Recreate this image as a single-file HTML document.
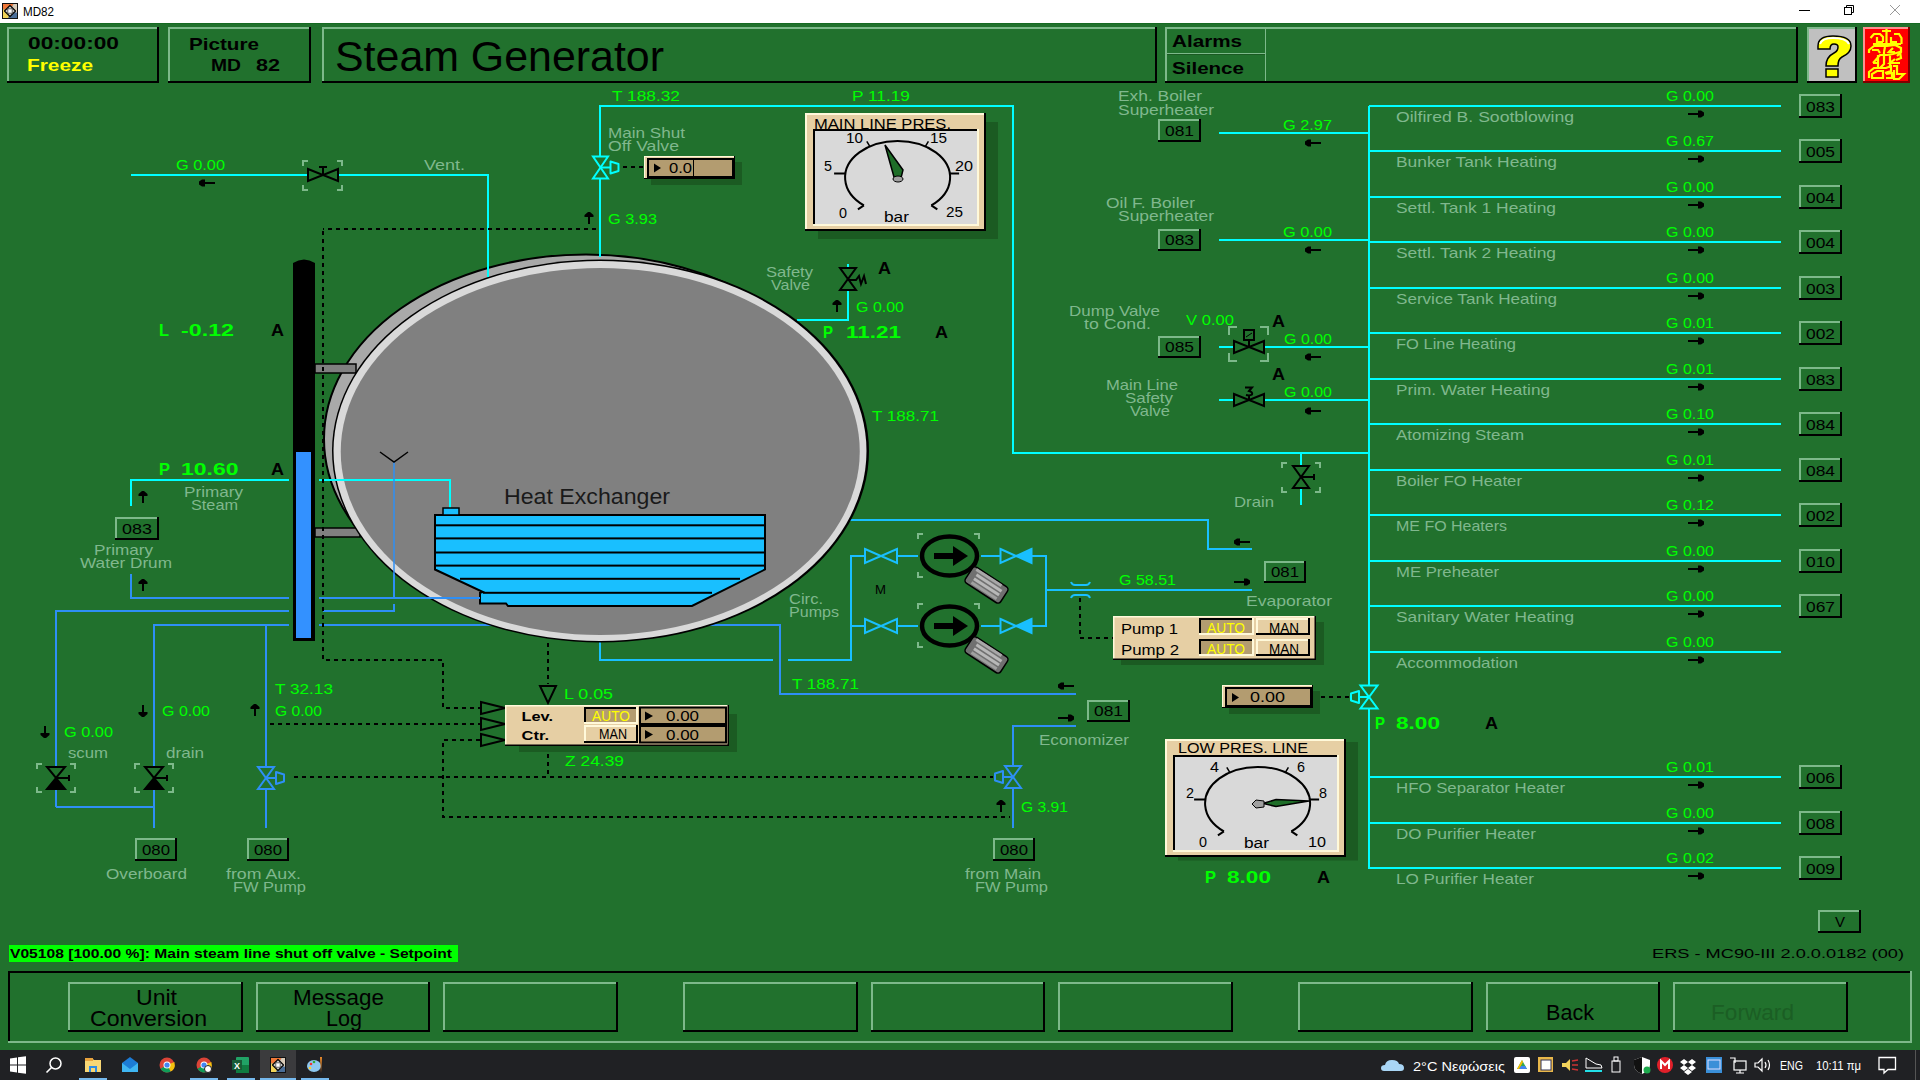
<!DOCTYPE html><html><head><meta charset="utf-8"><style>html,body{margin:0;padding:0;overflow:hidden;background:#21712D}svg{display:block}text{font-family:"Liberation Sans",sans-serif}</style></head><body>
<svg width="1920" height="1080" viewBox="0 0 1920 1080">
<rect x="0" y="0" width="1920" height="1080" fill="#21712D" />
<rect x="0" y="0" width="1920" height="23" fill="#FFFFFF" />
<rect x="0" y="23" width="1920" height="1" fill="#166A22" />
<text x="23" y="16" font-size="12" fill="#000" font-weight="normal" textLength="31" lengthAdjust="spacingAndGlyphs" >MD82</text>
<g transform="translate(2,3)"><rect x="0" y="0" width="16" height="16" fill="#4A6E98"/><path d="M0,0 H12 L8,8 L0,6Z" fill="#F07838"/><path d="M12,0 H16 V10 L8,8Z" fill="#D9CBB8"/><path d="M0,6 L8,8 L6,16 H0Z" fill="#F2D458"/><rect x="0.5" y="0.5" width="15" height="15" fill="none" stroke="#111" stroke-width="1"/><path d="M8,2.5 L13.5,8 L8,13.5 L2.5,8Z" fill="#FFF" stroke="#000" stroke-width="1.2" stroke-linejoin="round"/><circle cx="8" cy="8" r="3" fill="#BBB" stroke="#555" stroke-width="0.8"/><circle cx="8" cy="8" r="1.5" fill="#FFF"/></g>
<rect x="1799" y="10" width="11" height="1" fill="#000" />
<rect x="1844.5" y="7.5" width="7" height="7" fill="none" stroke="#000" stroke-width="1"/><path d="M1846.5,7.5V5.5H1853.5V12.5H1851.5" fill="none" stroke="#000" stroke-width="1"/>
<path d="M1890,5 L1900,15 M1900,5 L1890,15" stroke="#999" stroke-width="1"/>
<path d="M7,83V27H159V29H9V83Z" fill="#7DB98A"/>
<path d="M159,27V83H7V81H157V27Z" fill="#000"/>
<text x="28" y="49" font-size="17" fill="#000" font-weight="bold" textLength="91" lengthAdjust="spacingAndGlyphs" >00:00:00</text>
<text x="27" y="71" font-size="17" fill="#FFFF00" font-weight="bold" textLength="66" lengthAdjust="spacingAndGlyphs" >Freeze</text>
<path d="M168,83V27H311V29H170V83Z" fill="#7DB98A"/>
<path d="M311,27V83H168V81H309V27Z" fill="#000"/>
<text x="189" y="50" font-size="17" fill="#000" font-weight="bold" textLength="70" lengthAdjust="spacingAndGlyphs" >Picture</text>
<text x="211" y="71" font-size="17" fill="#000" font-weight="bold" textLength="30" lengthAdjust="spacingAndGlyphs" >MD</text>
<text x="256" y="71" font-size="17" fill="#000" font-weight="bold" textLength="24" lengthAdjust="spacingAndGlyphs" >82</text>
<path d="M322,83V27H1157V29H324V83Z" fill="#7DB98A"/>
<path d="M1157,27V83H322V81H1155V27Z" fill="#000"/>
<text x="335" y="71" font-size="42" fill="#000" font-weight="normal" textLength="329" lengthAdjust="spacingAndGlyphs" >Steam Generator</text>
<path d="M1165,83V27H1798V29H1167V83Z" fill="#7DB98A"/>
<path d="M1798,27V83H1165V81H1796V27Z" fill="#000"/>
<rect x="1265" y="28" width="1" height="53" fill="#7DB98A"/>
<rect x="1167" y="53" width="98" height="1" fill="#7DB98A"/>
<rect x="1167" y="54" width="98" height="1" fill="#1A5A22"/>
<text x="1172" y="47" font-size="17" fill="#000" font-weight="bold" textLength="70" lengthAdjust="spacingAndGlyphs" >Alarms</text>
<text x="1172" y="74" font-size="17" fill="#000" font-weight="bold" textLength="72" lengthAdjust="spacingAndGlyphs" >Silence</text>
<rect x="1807" y="27" width="50" height="56" fill="#C0C0C0" />
<path d="M1807,83V27H1857V29H1809V83Z" fill="#7DB98A"/>
<path d="M1857,27V83H1807V81H1855V27Z" fill="#000"/>
<rect x="1863" y="27" width="47" height="56" fill="#FF0000" />
<path d="M1863,83V27H1910V29H1865V83Z" fill="#FF9090"/>
<path d="M1910,27V83H1863V81H1908V27Z" fill="#800000"/>
<path d="M1818,46 Q1818,36 1833,36 Q1851,36 1851,46 Q1851,53 1842,57 Q1838,59 1838,66 H1826 Q1826,57 1834,53 Q1838,51 1838,47 Q1838,44 1834,44 Q1830,44 1830,49 H1818Z" fill="#FFFF00" stroke="#000" stroke-width="1.5"/>
<path d="M1826,69 H1838 V77 H1826Z" fill="#FFFF00" stroke="#000" stroke-width="1.5"/>
<path d="M1820,44 Q1822,38 1833,38 Q1846,38 1849,44" fill="none" stroke="#FFF" stroke-width="2"/>
<g fill="none" stroke="#FFFF00" stroke-width="2.2" stroke-linejoin="miter"><path d="M1882,31 H1891 M1886.5,29 V45 M1870.5,38 L1874,34 H1880 L1883,37 V42 M1877,37 V42 H1883 M1894,34 H1899 L1901.5,38 V44 M1891,37 V42 H1897 M1873,44 H1901"/><path d="M1869,53 V50 L1874,46 H1887 L1895,45 L1901,48 V52 L1897,56 M1872,50 H1878 L1880,53 M1885,47 L1884,52 M1893,48 L1889,52 H1895"/><path d="M1873,63 L1880,55 H1887 L1893,54 L1900,52 L1901,58 L1896,60 M1878,55 V68 M1884,52 V64 L1880,68 M1890,55 V66 M1873,63 H1878 M1895,59 L1890,63 H1900"/><path d="M1869,78 V72 L1874,68 H1886 L1891,66 V71 L1885,73 M1872,78 V74 L1877,71 H1883 V78 H1871 M1886,74 L1892,73 V78 H1886 M1893,66 H1897 V74 L1904,74 L1899,79 H1894 V70"/></g>
<path d="M131,175 L307,175" fill="none" stroke="#00FFFF" stroke-width="2" />
<path d="M339,175 L488,175 L488,277" fill="none" stroke="#00FFFF" stroke-width="2" />
<path d="M600,257 L600,179" fill="none" stroke="#00FFFF" stroke-width="2" />
<path d="M600,156 L600,106 L1013,106 L1013,453 L1369,453" fill="none" stroke="#00FFFF" stroke-width="2" />
<path d="M1301,453 L1301,466" fill="none" stroke="#00FFFF" stroke-width="2" />
<path d="M1301,488 L1301,505" fill="none" stroke="#00FFFF" stroke-width="2" />
<path d="M131,506 L131,480 L289,480" fill="none" stroke="#00FFFF" stroke-width="2" />
<path d="M319,480 L450,480 L450,508" fill="none" stroke="#00FFFF" stroke-width="2" />
<path d="M797,320 L848,320 L848,290" fill="none" stroke="#00FFFF" stroke-width="2" />
<path d="M848,264 L848,268" fill="none" stroke="#00FFFF" stroke-width="2" />
<path d="M131,574 L131,598 L289,598" fill="none" stroke="#2E8FF5" stroke-width="2" />
<path d="M319,598 L480,598" fill="none" stroke="#2E8FF5" stroke-width="2" />
<path d="M56,807 L56,611 L289,611" fill="none" stroke="#2E8FF5" stroke-width="2" />
<path d="M323,611 L394,611 L394,604" fill="none" stroke="#2E8FF5" stroke-width="2" />
<path d="M394,597 L394,462" fill="none" stroke="#2E8FF5" stroke-width="2" />
<path d="M56,807 L154,807" fill="none" stroke="#2E8FF5" stroke-width="2" />
<path d="M154,828 L154,625 L289,625" fill="none" stroke="#2E8FF5" stroke-width="2" />
<path d="M319,625 L780,625 L780,694 L1076,694" fill="none" stroke="#2E8FF5" stroke-width="2" />
<path d="M266,625 L266,766" fill="none" stroke="#2E8FF5" stroke-width="2" />
<path d="M266,789 L266,828" fill="none" stroke="#2E8FF5" stroke-width="2" />
<path d="M1013,828 L1013,789" fill="none" stroke="#2E8FF5" stroke-width="2" />
<path d="M1013,766 L1013,726 L1076,726" fill="none" stroke="#2E8FF5" stroke-width="2" />
<path d="M600,642 L600,660 L773,660" fill="none" stroke="#19BFFF" stroke-width="2" />
<path d="M788,660 L851,660 L851,556 L865,556" fill="none" stroke="#19BFFF" stroke-width="2" />
<path d="M851,626 L865,626" fill="none" stroke="#19BFFF" stroke-width="2" />
<path d="M897,556 L918,556" fill="none" stroke="#19BFFF" stroke-width="2" />
<path d="M897,626 L918,626" fill="none" stroke="#19BFFF" stroke-width="2" />
<path d="M981,556 L1001,556" fill="none" stroke="#19BFFF" stroke-width="2" />
<path d="M981,626 L1001,626" fill="none" stroke="#19BFFF" stroke-width="2" />
<path d="M1032,556 L1046,556 L1046,626 L1032,626" fill="none" stroke="#19BFFF" stroke-width="2" />
<path d="M1046,590 L1252,590" fill="none" stroke="#19BFFF" stroke-width="2" />
<path d="M840,520 L1208,520 L1208,549 L1252,549" fill="none" stroke="#19BFFF" stroke-width="2" />
<path d="M293,263 Q304,256 315,263 V641 H293Z" fill="#000"/>
<rect x="296" y="452" width="15" height="186" fill="#3391FF" />
<ellipse cx="586" cy="439" rx="262" ry="184.5" fill="#A9A9A9" stroke="#000" stroke-width="2"/>
<rect x="315" y="364" width="41" height="9" fill="#808080" stroke="#000" stroke-width="1.5"/>
<rect x="315" y="528" width="45" height="9" fill="#808080" stroke="#000" stroke-width="1.5"/>
<ellipse cx="600.5" cy="451" rx="268.5" ry="191.5" fill="#000"/>
<ellipse cx="600" cy="451" rx="266.5" ry="190" fill="#D9D9D9"/>
<ellipse cx="600.25" cy="451.5" rx="259.5" ry="183.5" fill="#808080"/>
<path d="M488,175 L488,277" fill="none" stroke="#00FFFF" stroke-width="2" />
<path d="M600,179 L600,257" fill="none" stroke="#00FFFF" stroke-width="2" />
<path d="M319,480 L450,480 L450,508" fill="none" stroke="#00FFFF" stroke-width="2" />
<path d="M394,597 L394,462" fill="none" stroke="#2E8FF5" stroke-width="1.5" />
<path d="M380,452 L394,462 L408,452" fill="none" stroke="#000" stroke-width="1.5"/>
<path d="M435,515 H765 V569.5 L692,606 H508 L506,603.5 H480 V592.8 L483,592 L435,569.5Z" fill="#19BFFF" stroke="#000" stroke-width="2"/>
<rect x="443" y="508" width="16" height="7" fill="#19BFFF" stroke="#000" stroke-width="1.5"/>
<rect x="435" y="524.3" width="330" height="2" fill="#000" />
<rect x="435" y="537.4" width="330" height="2" fill="#000" />
<rect x="435" y="551.5" width="330" height="2" fill="#000" />
<rect x="435" y="564.6" width="330" height="2" fill="#000" />
<rect x="460" y="577.8" width="280" height="2" fill="#000" />
<rect x="483" y="591.8" width="229" height="2" fill="#000" />
<path d="M323,598 L480,598" fill="none" stroke="#2E8FF5" stroke-width="2" />
<text x="504" y="504" font-size="22" fill="#1A1A1A" font-weight="normal" textLength="166" lengthAdjust="spacingAndGlyphs" >Heat Exchanger</text>
<path d="M596,229 L323,229" fill="none" stroke="#000" stroke-width="2" stroke-dasharray="4,4"/>
<path d="M323,231 L323,660 L443,660 L443,708 L480,708" fill="none" stroke="#000" stroke-width="2" stroke-dasharray="4,4"/>
<path d="M270,724 L480,724" fill="none" stroke="#000" stroke-width="2" stroke-dasharray="4,4"/>
<path d="M480,740 L443,740 L443,817 L1010,817" fill="none" stroke="#000" stroke-width="2" stroke-dasharray="4,4"/>
<path d="M294,777 L993,777" fill="none" stroke="#000" stroke-width="2" stroke-dasharray="4,4"/>
<path d="M548,643 L548,684" fill="none" stroke="#000" stroke-width="2" stroke-dasharray="4,4"/>
<path d="M548,746 L548,777" fill="none" stroke="#000" stroke-width="2" stroke-dasharray="4,4"/>
<path d="M623,167 L643,167" fill="none" stroke="#000" stroke-width="2" stroke-dasharray="4,4"/>
<path d="M1080,598 L1080,638 L1113,638" fill="none" stroke="#000" stroke-width="2" stroke-dasharray="4,4"/>
<path d="M1313,697 L1349,697" fill="none" stroke="#000" stroke-width="2" stroke-dasharray="4,4"/>
<path d="M481,702 L505,708 L481,714Z" fill="#21712D" stroke="#000" stroke-width="2"/>
<path d="M481,718 L505,724 L481,730Z" fill="#21712D" stroke="#000" stroke-width="2"/>
<path d="M481,734 L505,740 L481,746Z" fill="#21712D" stroke="#000" stroke-width="2"/>
<path d="M540,686 L556,686 L548,703Z" fill="#21712D" stroke="#000" stroke-width="2"/>
<path d="M308.0,169.0 L323,175 L308.0,181.0Z" fill="#21712D" stroke="#000" stroke-width="2" stroke-linejoin="miter"/>
<path d="M338.0,169.0 L323,175 L338.0,181.0Z" fill="#21712D" stroke="#000" stroke-width="2"/>
<path d="M323,175 V167 M319,167 H327" stroke="#000" stroke-width="2"/>
<path d="M303,166V161H308 M337,161H342V166 M342,185V190H337 M308,190H303V185" fill="none" stroke="#7DB98A" stroke-width="2"/>
<path d="M593.0,156.5 L608.0,156.5 L600.5,167.5Z" fill="#21712D" stroke="#00FFFF" stroke-width="2"/>
<path d="M593.0,178.5 L608.0,178.5 L600.5,167.5Z" fill="#21712D" stroke="#00FFFF" stroke-width="2"/>
<path d="M600.5,167.5 H610.5" stroke="#00FFFF" stroke-width="2"/>
<path d="M610.5,161.5 V173.5 L618.5,171.0 V164.0Z" fill="none" stroke="#00FFFF" stroke-width="2" stroke-linejoin="round"/>
<path d="M840.0,268.0 L856.0,268.0 L848,279Z" fill="#21712D" stroke="#000" stroke-width="2"/>
<path d="M840.0,290.0 L856.0,290.0 L848,279Z" fill="#21712D" stroke="#000" stroke-width="2"/>
<path d="M848,280 H856 L859,276 L861,284 L864,276 L866,284" fill="none" stroke="#000" stroke-width="2"/>
<rect x="1233" y="347" width="0" height="0" fill="#000" />
<path d="M1219,133 L1369,133" fill="none" stroke="#00FFFF" stroke-width="2" />
<path d="M1219,240 L1369,240" fill="none" stroke="#00FFFF" stroke-width="2" />
<path d="M1219,347 L1233,347" fill="none" stroke="#00FFFF" stroke-width="2" />
<path d="M1264,347 L1369,347" fill="none" stroke="#00FFFF" stroke-width="2" />
<path d="M1219,400 L1233,400" fill="none" stroke="#00FFFF" stroke-width="2" />
<path d="M1264,400 L1369,400" fill="none" stroke="#00FFFF" stroke-width="2" />
<path d="M1234.0,341.0 L1249,347 L1234.0,353.0Z" fill="#21712D" stroke="#000" stroke-width="2" stroke-linejoin="miter"/>
<path d="M1264.0,341.0 L1249,347 L1264.0,353.0Z" fill="#21712D" stroke="#000" stroke-width="2"/>
<path d="M1249,347 V340" stroke="#000" stroke-width="2"/>
<rect x="1244" y="330" width="10" height="10" fill="none" stroke="#000" stroke-width="2"/>
<path d="M1246,337 L1252,333" stroke="#000" stroke-width="1"/>
<path d="M1229,335V327H1237 M1260,327H1268V335 M1268,353V361H1260 M1237,361H1229V353" fill="none" stroke="#7DB98A" stroke-width="2"/>
<path d="M1234.0,394.0 L1249,400 L1234.0,406.0Z" fill="#21712D" stroke="#000" stroke-width="2" stroke-linejoin="miter"/>
<path d="M1264.0,394.0 L1249,400 L1264.0,406.0Z" fill="#21712D" stroke="#000" stroke-width="2"/>
<path d="M1249,400 V395 M1245,387.5 H1252 L1249,391 Q1253,392 1252,394.5 Q1250,396 1246,395" fill="none" stroke="#000" stroke-width="2"/>
<path d="M1293.0,466.0 L1309.0,466.0 L1301,477Z" fill="#21712D" stroke="#000" stroke-width="2"/>
<path d="M1293.0,488.0 L1309.0,488.0 L1301,477Z" fill="#21712D" stroke="#000" stroke-width="2"/>
<path d="M1301,477 H1314 M1314,474 V480" stroke="#000" stroke-width="2"/>
<path d="M1282,468V463H1287 M1315,463H1320V468 M1320,487V492H1315 M1287,492H1282V487" fill="none" stroke="#7DB98A" stroke-width="2"/>
<path d="M47.0,767.0 L65.0,767.0 L56,778Z" fill="#21712D" stroke="#000" stroke-width="2"/>
<path d="M47.0,789.0 L65.0,789.0 L56,778Z" fill="#000" stroke="#000" stroke-width="2"/>
<path d="M56,778 H69 M69,775 V781" stroke="#000" stroke-width="2"/>
<path d="M37,769V764H42 M70,764H75V769 M75,787V792H70 M42,792H37V787" fill="none" stroke="#7DB98A" stroke-width="2"/>
<path d="M145.0,767.0 L163.0,767.0 L154,778Z" fill="#21712D" stroke="#000" stroke-width="2"/>
<path d="M145.0,789.0 L163.0,789.0 L154,778Z" fill="#000" stroke="#000" stroke-width="2"/>
<path d="M154,778 H167 M167,775 V781" stroke="#000" stroke-width="2"/>
<path d="M135,769V764H140 M168,764H173V769 M173,787V792H168 M140,792H135V787" fill="none" stroke="#7DB98A" stroke-width="2"/>
<path d="M258.0,767.0 L274.0,767.0 L266,778Z" fill="#21712D" stroke="#2E8FF5" stroke-width="2"/>
<path d="M258.0,789.0 L274.0,789.0 L266,778Z" fill="#21712D" stroke="#2E8FF5" stroke-width="2"/>
<path d="M266,778 H276" stroke="#2E8FF5" stroke-width="2"/>
<path d="M276,772 V784 L284,781.5 V774.5Z" fill="none" stroke="#2E8FF5" stroke-width="2" stroke-linejoin="round"/>
<path d="M1005.0,766.0 L1021.0,766.0 L1013,777Z" fill="#21712D" stroke="#2E8FF5" stroke-width="2"/>
<path d="M1005.0,788.0 L1021.0,788.0 L1013,777Z" fill="#21712D" stroke="#2E8FF5" stroke-width="2"/>
<path d="M1013,777 H1003" stroke="#2E8FF5" stroke-width="2"/>
<path d="M1003,771 V783 L995,780.5 V773.5Z" fill="none" stroke="#2E8FF5" stroke-width="2" stroke-linejoin="round"/>
<path d="M1369,106 L1369,686" fill="none" stroke="#00FFFF" stroke-width="2" />
<path d="M1369,708 L1369,869" fill="none" stroke="#00FFFF" stroke-width="2" />
<path d="M1360.5,685.5 L1377.5,685.5 L1369,697Z" fill="#21712D" stroke="#00FFFF" stroke-width="2"/>
<path d="M1360.5,708.5 L1377.5,708.5 L1369,697Z" fill="#21712D" stroke="#00FFFF" stroke-width="2"/>
<path d="M1369,697 H1359" stroke="#00FFFF" stroke-width="2"/>
<path d="M1359,691 V703 L1351,700.5 V693.5Z" fill="none" stroke="#00FFFF" stroke-width="2" stroke-linejoin="round"/>
<path d="M865.0,549.0 L881,556 L865.0,563.0Z" fill="#21712D" stroke="#19BFFF" stroke-width="2" stroke-linejoin="miter"/>
<path d="M897.0,549.0 L881,556 L897.0,563.0Z" fill="#21712D" stroke="#19BFFF" stroke-width="2"/>
<path d="M1000.5,549.0 L1016,556 L1000.5,563.0Z" fill="#21712D" stroke="#19BFFF" stroke-width="2" stroke-linejoin="miter"/>
<path d="M1031.5,549.0 L1016,556 L1031.5,563.0Z" fill="#19BFFF" stroke="#19BFFF" stroke-width="2"/>
<path d="M918,539V534H923 M974,534H979V539 M979,572V577H974 M923,577H918V572" fill="none" stroke="#7DB98A" stroke-width="2"/>
<ellipse cx="949.5" cy="556" rx="27.5" ry="19.5" fill="none" stroke="#000" stroke-width="4.5"/>
<rect x="934" y="553" width="20" height="6" fill="#000" />
<path d="M953,546 L968,556 L953,566Z" fill="#000"/>
<g transform="translate(986.5,585) rotate(33)"><rect x="-21" y="-9.5" width="42" height="19" rx="3.5" fill="#707070" stroke="#000" stroke-width="1.5"/><rect x="-17" y="-9" width="30" height="3" fill="#A8A8A8"/><rect x="-14" y="-4.5" width="30" height="3" fill="#B8B8B8"/><rect x="-14" y="0" width="30" height="3" fill="#B8B8B8"/><rect x="-14" y="4.5" width="30" height="3" fill="#A0A0A0"/></g>
<path d="M865.0,619.0 L881,626 L865.0,633.0Z" fill="#21712D" stroke="#19BFFF" stroke-width="2" stroke-linejoin="miter"/>
<path d="M897.0,619.0 L881,626 L897.0,633.0Z" fill="#21712D" stroke="#19BFFF" stroke-width="2"/>
<path d="M1000.5,619.0 L1016,626 L1000.5,633.0Z" fill="#21712D" stroke="#19BFFF" stroke-width="2" stroke-linejoin="miter"/>
<path d="M1031.5,619.0 L1016,626 L1031.5,633.0Z" fill="#19BFFF" stroke="#19BFFF" stroke-width="2"/>
<path d="M918,609V604H923 M974,604H979V609 M979,642V647H974 M923,647H918V642" fill="none" stroke="#7DB98A" stroke-width="2"/>
<ellipse cx="949.5" cy="626" rx="27.5" ry="19.5" fill="none" stroke="#000" stroke-width="4.5"/>
<rect x="934" y="623" width="20" height="6" fill="#000" />
<path d="M953,616 L968,626 L953,636Z" fill="#000"/>
<g transform="translate(986.5,655) rotate(33)"><rect x="-21" y="-9.5" width="42" height="19" rx="3.5" fill="#707070" stroke="#000" stroke-width="1.5"/><rect x="-17" y="-9" width="30" height="3" fill="#A8A8A8"/><rect x="-14" y="-4.5" width="30" height="3" fill="#B8B8B8"/><rect x="-14" y="0" width="30" height="3" fill="#B8B8B8"/><rect x="-14" y="4.5" width="30" height="3" fill="#A0A0A0"/></g>
<text x="875" y="594" font-size="13" fill="#000" font-weight="normal" textLength="11" lengthAdjust="spacingAndGlyphs" >M</text>
<path d="M1071,582 Q1072,585 1075,585 H1086 Q1089,585 1090,582 M1071,598 Q1072,595 1075,595 H1086 Q1089,595 1090,598" fill="none" stroke="#19BFFF" stroke-width="2"/>
<path d="M1369,106 L1781,106" fill="none" stroke="#00FFFF" stroke-width="2" />
<text x="1396" y="122" font-size="15" fill="#80B88E" font-weight="normal" textLength="178" lengthAdjust="spacingAndGlyphs" >Oilfired B. Sootblowing</text>
<text x="1666" y="101" font-size="14" fill="#00FF00" font-weight="normal" textLength="48" lengthAdjust="spacingAndGlyphs" >G 0.00</text>
<path d="M1704,112.5 L1701,110.5 H1698 V113 H1688 V115 H1698 V117.5 H1701 L1704,115.5Z" fill="#000"/>
<path d="M1799,118V94H1842V96H1801V118Z" fill="#7DB98A"/>
<path d="M1842,94V118H1799V116H1840V94Z" fill="#000"/>
<text x="1806" y="112" font-size="15" fill="#000" font-weight="normal" textLength="29" lengthAdjust="spacingAndGlyphs" >083</text>
<path d="M1369,151 L1781,151" fill="none" stroke="#00FFFF" stroke-width="2" />
<text x="1396" y="167" font-size="15" fill="#80B88E" font-weight="normal" textLength="161" lengthAdjust="spacingAndGlyphs" >Bunker Tank Heating</text>
<text x="1666" y="146" font-size="14" fill="#00FF00" font-weight="normal" textLength="48" lengthAdjust="spacingAndGlyphs" >G 0.67</text>
<path d="M1704,157.5 L1701,155.5 H1698 V158 H1688 V160 H1698 V162.5 H1701 L1704,160.5Z" fill="#000"/>
<path d="M1799,163V139H1842V141H1801V163Z" fill="#7DB98A"/>
<path d="M1842,139V163H1799V161H1840V139Z" fill="#000"/>
<text x="1806" y="157" font-size="15" fill="#000" font-weight="normal" textLength="29" lengthAdjust="spacingAndGlyphs" >005</text>
<path d="M1369,197 L1781,197" fill="none" stroke="#00FFFF" stroke-width="2" />
<text x="1396" y="213" font-size="15" fill="#80B88E" font-weight="normal" textLength="160" lengthAdjust="spacingAndGlyphs" >Settl. Tank 1 Heating</text>
<text x="1666" y="192" font-size="14" fill="#00FF00" font-weight="normal" textLength="48" lengthAdjust="spacingAndGlyphs" >G 0.00</text>
<path d="M1704,203.5 L1701,201.5 H1698 V204 H1688 V206 H1698 V208.5 H1701 L1704,206.5Z" fill="#000"/>
<path d="M1799,209V185H1842V187H1801V209Z" fill="#7DB98A"/>
<path d="M1842,185V209H1799V207H1840V185Z" fill="#000"/>
<text x="1806" y="203" font-size="15" fill="#000" font-weight="normal" textLength="29" lengthAdjust="spacingAndGlyphs" >004</text>
<path d="M1369,242 L1781,242" fill="none" stroke="#00FFFF" stroke-width="2" />
<text x="1396" y="258" font-size="15" fill="#80B88E" font-weight="normal" textLength="160" lengthAdjust="spacingAndGlyphs" >Settl. Tank 2 Heating</text>
<text x="1666" y="237" font-size="14" fill="#00FF00" font-weight="normal" textLength="48" lengthAdjust="spacingAndGlyphs" >G 0.00</text>
<path d="M1704,248.5 L1701,246.5 H1698 V249 H1688 V251 H1698 V253.5 H1701 L1704,251.5Z" fill="#000"/>
<path d="M1799,254V230H1842V232H1801V254Z" fill="#7DB98A"/>
<path d="M1842,230V254H1799V252H1840V230Z" fill="#000"/>
<text x="1806" y="248" font-size="15" fill="#000" font-weight="normal" textLength="29" lengthAdjust="spacingAndGlyphs" >004</text>
<path d="M1369,288 L1781,288" fill="none" stroke="#00FFFF" stroke-width="2" />
<text x="1396" y="304" font-size="15" fill="#80B88E" font-weight="normal" textLength="161" lengthAdjust="spacingAndGlyphs" >Service Tank Heating</text>
<text x="1666" y="283" font-size="14" fill="#00FF00" font-weight="normal" textLength="48" lengthAdjust="spacingAndGlyphs" >G 0.00</text>
<path d="M1704,294.5 L1701,292.5 H1698 V295 H1688 V297 H1698 V299.5 H1701 L1704,297.5Z" fill="#000"/>
<path d="M1799,300V276H1842V278H1801V300Z" fill="#7DB98A"/>
<path d="M1842,276V300H1799V298H1840V276Z" fill="#000"/>
<text x="1806" y="294" font-size="15" fill="#000" font-weight="normal" textLength="29" lengthAdjust="spacingAndGlyphs" >003</text>
<path d="M1369,333 L1781,333" fill="none" stroke="#00FFFF" stroke-width="2" />
<text x="1396" y="349" font-size="15" fill="#80B88E" font-weight="normal" textLength="120" lengthAdjust="spacingAndGlyphs" >FO Line Heating</text>
<text x="1666" y="328" font-size="14" fill="#00FF00" font-weight="normal" textLength="48" lengthAdjust="spacingAndGlyphs" >G 0.01</text>
<path d="M1704,339.5 L1701,337.5 H1698 V340 H1688 V342 H1698 V344.5 H1701 L1704,342.5Z" fill="#000"/>
<path d="M1799,345V321H1842V323H1801V345Z" fill="#7DB98A"/>
<path d="M1842,321V345H1799V343H1840V321Z" fill="#000"/>
<text x="1806" y="339" font-size="15" fill="#000" font-weight="normal" textLength="29" lengthAdjust="spacingAndGlyphs" >002</text>
<path d="M1369,379 L1781,379" fill="none" stroke="#00FFFF" stroke-width="2" />
<text x="1396" y="395" font-size="15" fill="#80B88E" font-weight="normal" textLength="154" lengthAdjust="spacingAndGlyphs" >Prim. Water Heating</text>
<text x="1666" y="374" font-size="14" fill="#00FF00" font-weight="normal" textLength="48" lengthAdjust="spacingAndGlyphs" >G 0.01</text>
<path d="M1704,385.5 L1701,383.5 H1698 V386 H1688 V388 H1698 V390.5 H1701 L1704,388.5Z" fill="#000"/>
<path d="M1799,391V367H1842V369H1801V391Z" fill="#7DB98A"/>
<path d="M1842,367V391H1799V389H1840V367Z" fill="#000"/>
<text x="1806" y="385" font-size="15" fill="#000" font-weight="normal" textLength="29" lengthAdjust="spacingAndGlyphs" >083</text>
<path d="M1369,424 L1781,424" fill="none" stroke="#00FFFF" stroke-width="2" />
<text x="1396" y="440" font-size="15" fill="#80B88E" font-weight="normal" textLength="128" lengthAdjust="spacingAndGlyphs" >Atomizing Steam</text>
<text x="1666" y="419" font-size="14" fill="#00FF00" font-weight="normal" textLength="48" lengthAdjust="spacingAndGlyphs" >G 0.10</text>
<path d="M1704,430.5 L1701,428.5 H1698 V431 H1688 V433 H1698 V435.5 H1701 L1704,433.5Z" fill="#000"/>
<path d="M1799,436V412H1842V414H1801V436Z" fill="#7DB98A"/>
<path d="M1842,412V436H1799V434H1840V412Z" fill="#000"/>
<text x="1806" y="430" font-size="15" fill="#000" font-weight="normal" textLength="29" lengthAdjust="spacingAndGlyphs" >084</text>
<path d="M1369,470 L1781,470" fill="none" stroke="#00FFFF" stroke-width="2" />
<text x="1396" y="486" font-size="15" fill="#80B88E" font-weight="normal" textLength="126" lengthAdjust="spacingAndGlyphs" >Boiler FO Heater</text>
<text x="1666" y="465" font-size="14" fill="#00FF00" font-weight="normal" textLength="48" lengthAdjust="spacingAndGlyphs" >G 0.01</text>
<path d="M1704,476.5 L1701,474.5 H1698 V477 H1688 V479 H1698 V481.5 H1701 L1704,479.5Z" fill="#000"/>
<path d="M1799,482V458H1842V460H1801V482Z" fill="#7DB98A"/>
<path d="M1842,458V482H1799V480H1840V458Z" fill="#000"/>
<text x="1806" y="476" font-size="15" fill="#000" font-weight="normal" textLength="29" lengthAdjust="spacingAndGlyphs" >084</text>
<path d="M1369,515 L1781,515" fill="none" stroke="#00FFFF" stroke-width="2" />
<text x="1396" y="531" font-size="15" fill="#80B88E" font-weight="normal" textLength="111" lengthAdjust="spacingAndGlyphs" >ME FO Heaters</text>
<text x="1666" y="510" font-size="14" fill="#00FF00" font-weight="normal" textLength="48" lengthAdjust="spacingAndGlyphs" >G 0.12</text>
<path d="M1704,521.5 L1701,519.5 H1698 V522 H1688 V524 H1698 V526.5 H1701 L1704,524.5Z" fill="#000"/>
<path d="M1799,527V503H1842V505H1801V527Z" fill="#7DB98A"/>
<path d="M1842,503V527H1799V525H1840V503Z" fill="#000"/>
<text x="1806" y="521" font-size="15" fill="#000" font-weight="normal" textLength="29" lengthAdjust="spacingAndGlyphs" >002</text>
<path d="M1369,561 L1781,561" fill="none" stroke="#00FFFF" stroke-width="2" />
<text x="1396" y="577" font-size="15" fill="#80B88E" font-weight="normal" textLength="103" lengthAdjust="spacingAndGlyphs" >ME Preheater</text>
<text x="1666" y="556" font-size="14" fill="#00FF00" font-weight="normal" textLength="48" lengthAdjust="spacingAndGlyphs" >G 0.00</text>
<path d="M1704,567.5 L1701,565.5 H1698 V568 H1688 V570 H1698 V572.5 H1701 L1704,570.5Z" fill="#000"/>
<path d="M1799,573V549H1842V551H1801V573Z" fill="#7DB98A"/>
<path d="M1842,549V573H1799V571H1840V549Z" fill="#000"/>
<text x="1806" y="567" font-size="15" fill="#000" font-weight="normal" textLength="29" lengthAdjust="spacingAndGlyphs" >010</text>
<path d="M1369,606 L1781,606" fill="none" stroke="#00FFFF" stroke-width="2" />
<text x="1396" y="622" font-size="15" fill="#80B88E" font-weight="normal" textLength="178" lengthAdjust="spacingAndGlyphs" >Sanitary Water Heating</text>
<text x="1666" y="601" font-size="14" fill="#00FF00" font-weight="normal" textLength="48" lengthAdjust="spacingAndGlyphs" >G 0.00</text>
<path d="M1704,612.5 L1701,610.5 H1698 V613 H1688 V615 H1698 V617.5 H1701 L1704,615.5Z" fill="#000"/>
<path d="M1799,618V594H1842V596H1801V618Z" fill="#7DB98A"/>
<path d="M1842,594V618H1799V616H1840V594Z" fill="#000"/>
<text x="1806" y="612" font-size="15" fill="#000" font-weight="normal" textLength="29" lengthAdjust="spacingAndGlyphs" >067</text>
<path d="M1369,652 L1781,652" fill="none" stroke="#00FFFF" stroke-width="2" />
<text x="1396" y="668" font-size="15" fill="#80B88E" font-weight="normal" textLength="122" lengthAdjust="spacingAndGlyphs" >Accommodation</text>
<text x="1666" y="647" font-size="14" fill="#00FF00" font-weight="normal" textLength="48" lengthAdjust="spacingAndGlyphs" >G 0.00</text>
<path d="M1704,658.5 L1701,656.5 H1698 V659 H1688 V661 H1698 V663.5 H1701 L1704,661.5Z" fill="#000"/>
<path d="M1369,777 L1781,777" fill="none" stroke="#00FFFF" stroke-width="2" />
<text x="1396" y="793" font-size="15" fill="#80B88E" font-weight="normal" textLength="169" lengthAdjust="spacingAndGlyphs" >HFO Separator Heater</text>
<text x="1666" y="772" font-size="14" fill="#00FF00" font-weight="normal" textLength="48" lengthAdjust="spacingAndGlyphs" >G 0.01</text>
<path d="M1704,783.5 L1701,781.5 H1698 V784 H1688 V786 H1698 V788.5 H1701 L1704,786.5Z" fill="#000"/>
<path d="M1799,789V765H1842V767H1801V789Z" fill="#7DB98A"/>
<path d="M1842,765V789H1799V787H1840V765Z" fill="#000"/>
<text x="1806" y="783" font-size="15" fill="#000" font-weight="normal" textLength="29" lengthAdjust="spacingAndGlyphs" >006</text>
<path d="M1369,823 L1781,823" fill="none" stroke="#00FFFF" stroke-width="2" />
<text x="1396" y="839" font-size="15" fill="#80B88E" font-weight="normal" textLength="140" lengthAdjust="spacingAndGlyphs" >DO Purifier Heater</text>
<text x="1666" y="818" font-size="14" fill="#00FF00" font-weight="normal" textLength="48" lengthAdjust="spacingAndGlyphs" >G 0.00</text>
<path d="M1704,829.5 L1701,827.5 H1698 V830 H1688 V832 H1698 V834.5 H1701 L1704,832.5Z" fill="#000"/>
<path d="M1799,835V811H1842V813H1801V835Z" fill="#7DB98A"/>
<path d="M1842,811V835H1799V833H1840V811Z" fill="#000"/>
<text x="1806" y="829" font-size="15" fill="#000" font-weight="normal" textLength="29" lengthAdjust="spacingAndGlyphs" >008</text>
<path d="M1369,868 L1781,868" fill="none" stroke="#00FFFF" stroke-width="2" />
<text x="1396" y="884" font-size="15" fill="#80B88E" font-weight="normal" textLength="138" lengthAdjust="spacingAndGlyphs" >LO Purifier Heater</text>
<text x="1666" y="863" font-size="14" fill="#00FF00" font-weight="normal" textLength="48" lengthAdjust="spacingAndGlyphs" >G 0.02</text>
<path d="M1704,874.5 L1701,872.5 H1698 V875 H1688 V877 H1698 V879.5 H1701 L1704,877.5Z" fill="#000"/>
<path d="M1799,880V856H1842V858H1801V880Z" fill="#7DB98A"/>
<path d="M1842,856V880H1799V878H1840V856Z" fill="#000"/>
<text x="1806" y="874" font-size="15" fill="#000" font-weight="normal" textLength="29" lengthAdjust="spacingAndGlyphs" >009</text>
<rect x="818" y="122" width="180" height="117" fill="#1B5B22" />
<rect x="805" y="113" width="181" height="118" fill="#E6CFA4" />
<path d="M805,231V113H986V115H807V231Z" fill="#FFF9DA"/>
<path d="M986,113V231H805V229H984V113Z" fill="#000"/>
<rect x="813" y="129" width="166" height="97" fill="#D9D9D9" />
<path d="M813,226V129H979V131H815V226Z" fill="#000"/>
<path d="M979,129V226H813V224H977V129Z" fill="#FFF9DA"/>
<text x="814" y="129" font-size="14" fill="#000" font-weight="normal" textLength="137" lengthAdjust="spacingAndGlyphs" >MAIN LINE PRES.</text>
<path d="M863.9,205.4 A52.5,36.5 0 1 1 931.3,205.4" fill="none" stroke="#000" stroke-width="2"/>
<path d="M863.9,205.4 l-6,4" stroke="#000" stroke-width="2" fill="none"/>
<path d="M931.3,205.4 l6,4" stroke="#000" stroke-width="2" fill="none"/>
<path d="M834.1,173.4 H845.1 M950.1,173.4 H959.1" stroke="#000" stroke-width="2"/>
<path d="M866.8,141.4 L869.8,146.4 M928.4,141.4 L925.4,146.4" stroke="#000" stroke-width="1.5"/>
<text x="846" y="143" font-size="14" fill="#000" font-weight="normal" textLength="17" lengthAdjust="spacingAndGlyphs" >10</text>
<text x="930" y="143" font-size="14" fill="#000" font-weight="normal" textLength="17" lengthAdjust="spacingAndGlyphs" >15</text>
<text x="824" y="171" font-size="14" fill="#000" font-weight="normal" textLength="8" lengthAdjust="spacingAndGlyphs" >5</text>
<text x="955" y="171" font-size="14" fill="#000" font-weight="normal" textLength="18" lengthAdjust="spacingAndGlyphs" >20</text>
<text x="839" y="218" font-size="14" fill="#000" font-weight="normal" textLength="8" lengthAdjust="spacingAndGlyphs" >0</text>
<text x="946" y="217" font-size="14" fill="#000" font-weight="normal" textLength="17" lengthAdjust="spacingAndGlyphs" >25</text>
<text x="884" y="222" font-size="14" fill="#000" font-weight="normal" textLength="25" lengthAdjust="spacingAndGlyphs" >bar</text>
<path d="M885,145 L903,170 L901,178 L894,177Z" fill="#1E6E28" stroke="#000" stroke-width="1.5"/><ellipse cx="898" cy="179" rx="5" ry="3" fill="#A0A0A0" stroke="#000" stroke-width="1"/>
<rect x="1178" y="742" width="180" height="118.5" fill="#1B5B22" />
<rect x="1165" y="739" width="181" height="118" fill="#E6CFA4" />
<path d="M1165,857V739H1346V741H1167V857Z" fill="#FFF9DA"/>
<path d="M1346,739V857H1165V855H1344V739Z" fill="#000"/>
<rect x="1173" y="755" width="166" height="97" fill="#D9D9D9" />
<path d="M1173,852V755H1339V757H1175V852Z" fill="#000"/>
<path d="M1339,755V852H1173V850H1337V755Z" fill="#FFF9DA"/>
<text x="1178" y="752.6" font-size="14" fill="#000" font-weight="normal" textLength="130" lengthAdjust="spacingAndGlyphs" >LOW PRES. LINE</text>
<path d="M1223.9,831.4 A52.5,36.5 0 1 1 1291.3,831.4" fill="none" stroke="#000" stroke-width="2"/>
<path d="M1223.9,831.4 l-6,4" stroke="#000" stroke-width="2" fill="none"/>
<path d="M1291.3,831.4 l6,4" stroke="#000" stroke-width="2" fill="none"/>
<path d="M1194.1,799.4 H1205.1 M1310.1,799.4 H1319.1" stroke="#000" stroke-width="2"/>
<path d="M1226.8,767.4 L1229.8,772.4 M1288.4,767.4 L1285.4,772.4" stroke="#000" stroke-width="1.5"/>
<text x="1210" y="772" font-size="14" fill="#000" font-weight="normal" textLength="9" lengthAdjust="spacingAndGlyphs" >4</text>
<text x="1297" y="772" font-size="14" fill="#000" font-weight="normal" textLength="8" lengthAdjust="spacingAndGlyphs" >6</text>
<text x="1186" y="798" font-size="14" fill="#000" font-weight="normal" textLength="8" lengthAdjust="spacingAndGlyphs" >2</text>
<text x="1319" y="798" font-size="14" fill="#000" font-weight="normal" textLength="8" lengthAdjust="spacingAndGlyphs" >8</text>
<text x="1199" y="847" font-size="14" fill="#000" font-weight="normal" textLength="8" lengthAdjust="spacingAndGlyphs" >0</text>
<text x="1308" y="847" font-size="14" fill="#000" font-weight="normal" textLength="18" lengthAdjust="spacingAndGlyphs" >10</text>
<text x="1244" y="848" font-size="14" fill="#000" font-weight="normal" textLength="25" lengthAdjust="spacingAndGlyphs" >bar</text>
<path d="M1309,801 L1276,799.5 L1263,803.5 L1276,806.5Z" fill="#1E6E28" stroke="#000" stroke-width="1.5"/><path d="M1252,804 L1256,800 L1264,801 L1264,807 L1256,808Z" fill="#A0A0A0" stroke="#000" stroke-width="1"/>
<rect x="651" y="162" width="91" height="23" fill="#1B5B22" />
<rect x="644" y="156" width="91" height="23" fill="#E6CFA4" />
<path d="M644,179V156H735V157H645V179Z" fill="#FFF9DA"/>
<path d="M735,156V179H644V178H734V156Z" fill="#000"/>
<rect x="648" y="159" width="85" height="18" fill="#B39C70" stroke="#000" stroke-width="2"/>
<path d="M654,163.5 L661,168.0 L654,172.5Z" fill="#000"/>
<text x="669" y="172.5" font-size="14" fill="#000" font-weight="normal" textLength="23" lengthAdjust="spacingAndGlyphs" >0.0</text>
<rect x="693" y="159" width="1" height="18" fill="#000" />
<rect x="1229" y="691" width="91" height="23" fill="#1B5B22" />
<rect x="1222" y="685" width="91" height="23" fill="#E6CFA4" />
<path d="M1222,708V685H1313V686H1223V708Z" fill="#FFF9DA"/>
<path d="M1313,685V708H1222V707H1312V685Z" fill="#000"/>
<rect x="1226" y="688" width="85" height="18" fill="#B39C70" stroke="#000" stroke-width="2"/>
<path d="M1232,693 L1239,697.5 L1232,702Z" fill="#000"/>
<text x="1250" y="702" font-size="14" fill="#000" font-weight="normal" textLength="35" lengthAdjust="spacingAndGlyphs" >0.00</text>
<rect x="519" y="714" width="218" height="38" fill="#1B5B22" />
<rect x="505" y="705" width="224" height="41" fill="#E6CFA4" />
<path d="M505,746V705H729V706.5H506.5V746Z" fill="#FFF9DA"/>
<path d="M729,705V746H505V744.5H727.5V705Z" fill="#000"/>
<text x="521.5" y="721" font-size="13" fill="#000" font-weight="bold" textLength="31.5" lengthAdjust="spacingAndGlyphs" >Lev.</text>
<text x="521.5" y="740" font-size="13" fill="#000" font-weight="bold" textLength="27.5" lengthAdjust="spacingAndGlyphs" >Ctr.</text>
<rect x="584" y="707" width="54" height="17" fill="#B39C70" />
<path d="M584,724V707H638V709H586V724Z" fill="#000"/>
<path d="M638,707V724H584V722H636V707Z" fill="#FFF9DA"/>
<text x="592" y="720.5" font-size="14" fill="#FFFF00" font-weight="normal" textLength="38" lengthAdjust="spacingAndGlyphs" >AUTO</text>
<rect x="584" y="725" width="54" height="18" fill="#E6CFA4" />
<path d="M584,743V725H638V727H586V743Z" fill="#FFF9DA"/>
<path d="M638,725V743H584V741H636V725Z" fill="#000"/>
<text x="599" y="739" font-size="14" fill="#000" font-weight="normal" textLength="28" lengthAdjust="spacingAndGlyphs" >MAN</text>
<rect x="640" y="707.5" width="86" height="16.5" fill="#B39C70" stroke="#000" stroke-width="2"/>
<path d="M645,711.5 L653,716.0 L645,720.5Z" fill="#000"/>
<text x="666" y="721.0" font-size="14" fill="#000" font-weight="normal" textLength="33" lengthAdjust="spacingAndGlyphs" >0.00</text>
<rect x="640" y="726" width="86" height="16.5" fill="#B39C70" stroke="#000" stroke-width="2"/>
<path d="M645,730 L653,734.5 L645,739Z" fill="#000"/>
<text x="666" y="739.5" font-size="14" fill="#000" font-weight="normal" textLength="33" lengthAdjust="spacingAndGlyphs" >0.00</text>
<rect x="1121" y="622" width="203" height="43" fill="#1B5B22" />
<rect x="1113" y="616" width="203" height="44" fill="#E6CFA4" />
<path d="M1113,660V616H1316V617.5H1114.5V660Z" fill="#FFF9DA"/>
<path d="M1316,616V660H1113V658.5H1314.5V616Z" fill="#000"/>
<text x="1121" y="634" font-size="14" fill="#000" font-weight="normal" textLength="57" lengthAdjust="spacingAndGlyphs" >Pump 1</text>
<text x="1121" y="655" font-size="14" fill="#000" font-weight="normal" textLength="58" lengthAdjust="spacingAndGlyphs" >Pump 2</text>
<rect x="1199" y="618" width="55" height="17" fill="#B39C70" />
<path d="M1199,635V618H1254V620H1201V635Z" fill="#000"/>
<path d="M1254,618V635H1199V633H1252V618Z" fill="#FFF9DA"/>
<text x="1207" y="633" font-size="14" fill="#FFFF00" font-weight="normal" textLength="38" lengthAdjust="spacingAndGlyphs" >AUTO</text>
<rect x="1256" y="618" width="54" height="17" fill="#E6CFA4" />
<path d="M1256,635V618H1310V620H1258V635Z" fill="#FFF9DA"/>
<path d="M1310,618V635H1256V633H1308V618Z" fill="#000"/>
<text x="1269" y="633" font-size="14" fill="#000" font-weight="normal" textLength="30" lengthAdjust="spacingAndGlyphs" >MAN</text>
<rect x="1199" y="639" width="55" height="17" fill="#B39C70" />
<path d="M1199,656V639H1254V641H1201V656Z" fill="#000"/>
<path d="M1254,639V656H1199V654H1252V639Z" fill="#FFF9DA"/>
<text x="1207" y="654" font-size="14" fill="#FFFF00" font-weight="normal" textLength="38" lengthAdjust="spacingAndGlyphs" >AUTO</text>
<rect x="1256" y="639" width="54" height="17" fill="#E6CFA4" />
<path d="M1256,656V639H1310V641H1258V656Z" fill="#FFF9DA"/>
<path d="M1310,639V656H1256V654H1308V639Z" fill="#000"/>
<text x="1269" y="654" font-size="14" fill="#000" font-weight="normal" textLength="30" lengthAdjust="spacingAndGlyphs" >MAN</text>
<path d="M1158,142V119H1201V121H1160V142Z" fill="#7DB98A"/>
<path d="M1201,119V142H1158V140H1199V119Z" fill="#000"/>
<text x="1165" y="136" font-size="15" fill="#000" font-weight="normal" textLength="29" lengthAdjust="spacingAndGlyphs" >081</text>
<path d="M1158,251V229H1201V231H1160V251Z" fill="#7DB98A"/>
<path d="M1201,229V251H1158V249H1199V229Z" fill="#000"/>
<text x="1165" y="245" font-size="15" fill="#000" font-weight="normal" textLength="29" lengthAdjust="spacingAndGlyphs" >083</text>
<path d="M1158,358V336H1201V338H1160V358Z" fill="#7DB98A"/>
<path d="M1201,336V358H1158V356H1199V336Z" fill="#000"/>
<text x="1165" y="352" font-size="15" fill="#000" font-weight="normal" textLength="29" lengthAdjust="spacingAndGlyphs" >085</text>
<path d="M115,540V517H159V519H117V540Z" fill="#7DB98A"/>
<path d="M159,517V540H115V538H157V517Z" fill="#000"/>
<text x="122" y="534" font-size="15" fill="#000" font-weight="normal" textLength="30" lengthAdjust="spacingAndGlyphs" >083</text>
<path d="M135,861V838H177V840H137V861Z" fill="#7DB98A"/>
<path d="M177,838V861H135V859H175V838Z" fill="#000"/>
<text x="142" y="855" font-size="15" fill="#000" font-weight="normal" textLength="28" lengthAdjust="spacingAndGlyphs" >080</text>
<path d="M247,861V838H289V840H249V861Z" fill="#7DB98A"/>
<path d="M289,838V861H247V859H287V838Z" fill="#000"/>
<text x="254" y="855" font-size="15" fill="#000" font-weight="normal" textLength="28" lengthAdjust="spacingAndGlyphs" >080</text>
<path d="M993,861V838H1035V840H995V861Z" fill="#7DB98A"/>
<path d="M1035,838V861H993V859H1033V838Z" fill="#000"/>
<text x="1000" y="855" font-size="15" fill="#000" font-weight="normal" textLength="28" lengthAdjust="spacingAndGlyphs" >080</text>
<path d="M1264,583V561H1306V563H1266V583Z" fill="#7DB98A"/>
<path d="M1306,561V583H1264V581H1304V561Z" fill="#000"/>
<text x="1271" y="577" font-size="15" fill="#000" font-weight="normal" textLength="28" lengthAdjust="spacingAndGlyphs" >081</text>
<path d="M1087,722V700H1130V702H1089V722Z" fill="#7DB98A"/>
<path d="M1130,700V722H1087V720H1128V700Z" fill="#000"/>
<text x="1094" y="716" font-size="15" fill="#000" font-weight="normal" textLength="29" lengthAdjust="spacingAndGlyphs" >081</text>
<path d="M199,181.5 L202,179.5 H205 V182 H215 V184 H205 V186.5 H202 L199,184.5Z" fill="#000"/>
<path d="M588,212 H590 L593.5,215 V217 H590 V224 H588 V217 H584.5 V215Z" fill="#000"/>
<path d="M1305,141.5 L1308,139.5 H1311 V142 H1321 V144 H1311 V146.5 H1308 L1305,144.5Z" fill="#000"/>
<path d="M1305,248.5 L1308,246.5 H1311 V249 H1321 V251 H1311 V253.5 H1308 L1305,251.5Z" fill="#000"/>
<path d="M1305,355.5 L1308,353.5 H1311 V356 H1321 V358 H1311 V360.5 H1308 L1305,358.5Z" fill="#000"/>
<path d="M1305,409.5 L1308,407.5 H1311 V410 H1321 V412 H1311 V414.5 H1308 L1305,412.5Z" fill="#000"/>
<path d="M836,300 H838 L841.5,303 V305 H838 V312 H836 V305 H832.5 V303Z" fill="#000"/>
<path d="M142,491 H144 L147.5,494 V496 H144 V503 H142 V496 H138.5 V494Z" fill="#000"/>
<path d="M142,579 H144 L147.5,582 V584 H144 V591 H142 V584 H138.5 V582Z" fill="#000"/>
<path d="M44,738 H46 L49.5,735 V733 H46 V726 H44 V733 H40.5 V735Z" fill="#000"/>
<path d="M142,717 H144 L147.5,714 V712 H144 V705 H142 V712 H138.5 V714Z" fill="#000"/>
<path d="M254,704 H256 L259.5,707 V709 H256 V716 H254 V709 H250.5 V707Z" fill="#000"/>
<path d="M1234,540.5 L1237,538.5 H1240 V541 H1250 V543 H1240 V545.5 H1237 L1234,543.5Z" fill="#000"/>
<path d="M1250,580.5 L1247,578.5 H1244 V581 H1234 V583 H1244 V585.5 H1247 L1250,583.5Z" fill="#000"/>
<path d="M1058,684.5 L1061,682.5 H1064 V685 H1074 V687 H1064 V689.5 H1061 L1058,687.5Z" fill="#000"/>
<path d="M1074,716.5 L1071,714.5 H1068 V717 H1058 V719 H1068 V721.5 H1071 L1074,719.5Z" fill="#000"/>
<path d="M1000,800 H1002 L1005.5,803 V805 H1002 V812 H1000 V805 H996.5 V803Z" fill="#000"/>
<text x="424" y="170" font-size="15" fill="#80B88E" font-weight="normal" textLength="41" lengthAdjust="spacingAndGlyphs" >Vent.</text>
<text x="608" y="138" font-size="15" fill="#80B88E" font-weight="normal" textLength="77" lengthAdjust="spacingAndGlyphs" >Main Shut</text>
<text x="608" y="151" font-size="15" fill="#80B88E" font-weight="normal" textLength="71" lengthAdjust="spacingAndGlyphs" >Off Valve</text>
<text x="1118" y="101" font-size="15" fill="#80B88E" font-weight="normal" textLength="84" lengthAdjust="spacingAndGlyphs" >Exh. Boiler</text>
<text x="1118" y="115" font-size="15" fill="#80B88E" font-weight="normal" textLength="96" lengthAdjust="spacingAndGlyphs" >Superheater</text>
<text x="1106" y="208" font-size="15" fill="#80B88E" font-weight="normal" textLength="89" lengthAdjust="spacingAndGlyphs" >Oil F. Boiler</text>
<text x="1118" y="221" font-size="15" fill="#80B88E" font-weight="normal" textLength="96" lengthAdjust="spacingAndGlyphs" >Superheater</text>
<text x="1069" y="316" font-size="15" fill="#80B88E" font-weight="normal" textLength="91" lengthAdjust="spacingAndGlyphs" >Dump Valve</text>
<text x="1084" y="329" font-size="15" fill="#80B88E" font-weight="normal" textLength="67" lengthAdjust="spacingAndGlyphs" >to Cond.</text>
<text x="1106" y="390" font-size="15" fill="#80B88E" font-weight="normal" textLength="72" lengthAdjust="spacingAndGlyphs" >Main Line</text>
<text x="1125" y="403" font-size="15" fill="#80B88E" font-weight="normal" textLength="48" lengthAdjust="spacingAndGlyphs" >Safety</text>
<text x="1130" y="416" font-size="15" fill="#80B88E" font-weight="normal" textLength="40" lengthAdjust="spacingAndGlyphs" >Valve</text>
<text x="1234" y="507" font-size="15" fill="#80B88E" font-weight="normal" textLength="40" lengthAdjust="spacingAndGlyphs" >Drain</text>
<text x="766" y="277" font-size="15" fill="#80B88E" font-weight="normal" textLength="47" lengthAdjust="spacingAndGlyphs" >Safety</text>
<text x="771" y="290" font-size="15" fill="#80B88E" font-weight="normal" textLength="39" lengthAdjust="spacingAndGlyphs" >Valve</text>
<text x="184" y="497" font-size="15" fill="#80B88E" font-weight="normal" textLength="59" lengthAdjust="spacingAndGlyphs" >Primary</text>
<text x="191" y="510" font-size="15" fill="#80B88E" font-weight="normal" textLength="47" lengthAdjust="spacingAndGlyphs" >Steam</text>
<text x="94" y="555" font-size="15" fill="#80B88E" font-weight="normal" textLength="59" lengthAdjust="spacingAndGlyphs" >Primary</text>
<text x="80" y="568" font-size="15" fill="#80B88E" font-weight="normal" textLength="92" lengthAdjust="spacingAndGlyphs" >Water Drum</text>
<text x="68" y="758" font-size="15" fill="#80B88E" font-weight="normal" textLength="40" lengthAdjust="spacingAndGlyphs" >scum</text>
<text x="166" y="758" font-size="15" fill="#80B88E" font-weight="normal" textLength="38" lengthAdjust="spacingAndGlyphs" >drain</text>
<text x="106" y="879" font-size="15" fill="#80B88E" font-weight="normal" textLength="81" lengthAdjust="spacingAndGlyphs" >Overboard</text>
<text x="226" y="879" font-size="15" fill="#80B88E" font-weight="normal" textLength="75" lengthAdjust="spacingAndGlyphs" >from Aux.</text>
<text x="233" y="892" font-size="15" fill="#80B88E" font-weight="normal" textLength="73" lengthAdjust="spacingAndGlyphs" >FW Pump</text>
<text x="965" y="879" font-size="15" fill="#80B88E" font-weight="normal" textLength="76" lengthAdjust="spacingAndGlyphs" >from Main</text>
<text x="975" y="892" font-size="15" fill="#80B88E" font-weight="normal" textLength="73" lengthAdjust="spacingAndGlyphs" >FW Pump</text>
<text x="1039" y="745" font-size="15" fill="#80B88E" font-weight="normal" textLength="90" lengthAdjust="spacingAndGlyphs" >Economizer</text>
<text x="1246" y="606" font-size="15" fill="#80B88E" font-weight="normal" textLength="86" lengthAdjust="spacingAndGlyphs" >Evaporator</text>
<text x="789" y="604" font-size="15" fill="#80B88E" font-weight="normal" textLength="34" lengthAdjust="spacingAndGlyphs" >Circ.</text>
<text x="789" y="617" font-size="15" fill="#80B88E" font-weight="normal" textLength="50" lengthAdjust="spacingAndGlyphs" >Pumps</text>
<text x="176" y="170" font-size="14" fill="#00FF00" font-weight="normal" textLength="49" lengthAdjust="spacingAndGlyphs" >G 0.00</text>
<text x="612" y="101" font-size="14" fill="#00FF00" font-weight="normal" textLength="68" lengthAdjust="spacingAndGlyphs" >T 188.32</text>
<text x="852" y="101" font-size="14" fill="#00FF00" font-weight="normal" textLength="58" lengthAdjust="spacingAndGlyphs" >P 11.19</text>
<text x="608" y="223.5" font-size="14" fill="#00FF00" font-weight="normal" textLength="49" lengthAdjust="spacingAndGlyphs" >G 3.93</text>
<text x="1283" y="129.5" font-size="14" fill="#00FF00" font-weight="normal" textLength="49" lengthAdjust="spacingAndGlyphs" >G 2.97</text>
<text x="1283" y="236.5" font-size="14" fill="#00FF00" font-weight="normal" textLength="49" lengthAdjust="spacingAndGlyphs" >G 0.00</text>
<text x="1186" y="325" font-size="14" fill="#00FF00" font-weight="normal" textLength="48" lengthAdjust="spacingAndGlyphs" >V 0.00</text>
<text x="1284" y="343.5" font-size="14" fill="#00FF00" font-weight="normal" textLength="48" lengthAdjust="spacingAndGlyphs" >G 0.00</text>
<text x="1284" y="397" font-size="14" fill="#00FF00" font-weight="normal" textLength="48" lengthAdjust="spacingAndGlyphs" >G 0.00</text>
<text x="856" y="312" font-size="14" fill="#00FF00" font-weight="normal" textLength="48" lengthAdjust="spacingAndGlyphs" >G 0.00</text>
<text x="872" y="421" font-size="14" fill="#00FF00" font-weight="normal" textLength="67" lengthAdjust="spacingAndGlyphs" >T 188.71</text>
<text x="1119" y="585" font-size="14" fill="#00FF00" font-weight="normal" textLength="57" lengthAdjust="spacingAndGlyphs" >G 58.51</text>
<text x="792" y="689" font-size="14" fill="#00FF00" font-weight="normal" textLength="67" lengthAdjust="spacingAndGlyphs" >T 188.71</text>
<text x="1021" y="812" font-size="14" fill="#00FF00" font-weight="normal" textLength="47" lengthAdjust="spacingAndGlyphs" >G 3.91</text>
<text x="564" y="699" font-size="14" fill="#00FF00" font-weight="normal" textLength="49" lengthAdjust="spacingAndGlyphs" >L 0.05</text>
<text x="565" y="766" font-size="14" fill="#00FF00" font-weight="normal" textLength="59" lengthAdjust="spacingAndGlyphs" >Z 24.39</text>
<text x="275" y="694" font-size="14" fill="#00FF00" font-weight="normal" textLength="58" lengthAdjust="spacingAndGlyphs" >T 32.13</text>
<text x="275" y="716" font-size="14" fill="#00FF00" font-weight="normal" textLength="47" lengthAdjust="spacingAndGlyphs" >G 0.00</text>
<text x="162" y="716" font-size="14" fill="#00FF00" font-weight="normal" textLength="48" lengthAdjust="spacingAndGlyphs" >G 0.00</text>
<text x="64" y="737" font-size="14" fill="#00FF00" font-weight="normal" textLength="49" lengthAdjust="spacingAndGlyphs" >G 0.00</text>
<text x="159" y="336" font-size="17" fill="#00FF00" font-weight="bold" textLength="10" lengthAdjust="spacingAndGlyphs" >L</text>
<text x="181" y="336" font-size="17" fill="#00FF00" font-weight="bold" textLength="53" lengthAdjust="spacingAndGlyphs" >-0.12</text>
<text x="159" y="474.6" font-size="17" fill="#00FF00" font-weight="bold" textLength="11" lengthAdjust="spacingAndGlyphs" >P</text>
<text x="181" y="474.6" font-size="17" fill="#00FF00" font-weight="bold" textLength="57.5" lengthAdjust="spacingAndGlyphs" >10.60</text>
<text x="823" y="338" font-size="17" fill="#00FF00" font-weight="bold" textLength="10" lengthAdjust="spacingAndGlyphs" >P</text>
<text x="846" y="338" font-size="17" fill="#00FF00" font-weight="bold" textLength="55" lengthAdjust="spacingAndGlyphs" >11.21</text>
<text x="1375" y="728.7" font-size="17" fill="#00FF00" font-weight="bold" textLength="10" lengthAdjust="spacingAndGlyphs" >P</text>
<text x="1396" y="728.7" font-size="17" fill="#00FF00" font-weight="bold" textLength="44" lengthAdjust="spacingAndGlyphs" >8.00</text>
<text x="1205" y="883" font-size="17" fill="#00FF00" font-weight="bold" textLength="11" lengthAdjust="spacingAndGlyphs" >P</text>
<text x="1227" y="883" font-size="17" fill="#00FF00" font-weight="bold" textLength="44" lengthAdjust="spacingAndGlyphs" >8.00</text>
<text x="271" y="336" font-size="17" fill="#000" font-weight="bold" textLength="13" lengthAdjust="spacingAndGlyphs" >A</text>
<text x="271" y="474.6" font-size="17" fill="#000" font-weight="bold" textLength="13" lengthAdjust="spacingAndGlyphs" >A</text>
<text x="935" y="338" font-size="17" fill="#000" font-weight="bold" textLength="13" lengthAdjust="spacingAndGlyphs" >A</text>
<text x="1485" y="728.7" font-size="17" fill="#000" font-weight="bold" textLength="13" lengthAdjust="spacingAndGlyphs" >A</text>
<text x="1317" y="883" font-size="17" fill="#000" font-weight="bold" textLength="13" lengthAdjust="spacingAndGlyphs" >A</text>
<text x="878" y="274" font-size="17" fill="#000" font-weight="bold" textLength="13" lengthAdjust="spacingAndGlyphs" >A</text>
<text x="1272" y="327" font-size="17" fill="#000" font-weight="bold" textLength="13" lengthAdjust="spacingAndGlyphs" >A</text>
<text x="1272" y="380" font-size="17" fill="#000" font-weight="bold" textLength="13" lengthAdjust="spacingAndGlyphs" >A</text>
<rect x="9" y="945" width="449" height="17" fill="#00FF00" />
<text x="10" y="958" font-size="12" fill="#000" font-weight="bold" textLength="442" lengthAdjust="spacingAndGlyphs" >V05108 [100.00 %]: Main steam line shut off valve - Setpoint</text>
<text x="1652" y="958" font-size="13" fill="#000" font-weight="normal" textLength="252" lengthAdjust="spacingAndGlyphs" >ERS - MC90-III 2.0.0.0182 (00)</text>
<path d="M1818,933V910H1861V912H1820V933Z" fill="#7DB98A"/>
<path d="M1861,910V933H1818V931H1859V910Z" fill="#000"/>
<text x="1835" y="927" font-size="14" fill="#000" font-weight="normal" textLength="10" lengthAdjust="spacingAndGlyphs" >V</text>
<path d="M8,1043V971H1912V973H10V1043Z" fill="#000"/>
<path d="M1912,971V1043H8V1041H1910V971Z" fill="#7DB98A"/>
<path d="M68,1032V982H243V984H70V1032Z" fill="#7DB98A"/>
<path d="M243,982V1032H68V1030H241V982Z" fill="#000"/>
<path d="M256,1032V982H430V984H258V1032Z" fill="#7DB98A"/>
<path d="M430,982V1032H256V1030H428V982Z" fill="#000"/>
<path d="M443,1032V982H618V984H445V1032Z" fill="#7DB98A"/>
<path d="M618,982V1032H443V1030H616V982Z" fill="#000"/>
<path d="M683,1032V982H858V984H685V1032Z" fill="#7DB98A"/>
<path d="M858,982V1032H683V1030H856V982Z" fill="#000"/>
<path d="M871,1032V982H1045V984H873V1032Z" fill="#7DB98A"/>
<path d="M1045,982V1032H871V1030H1043V982Z" fill="#000"/>
<path d="M1058,1032V982H1233V984H1060V1032Z" fill="#7DB98A"/>
<path d="M1233,982V1032H1058V1030H1231V982Z" fill="#000"/>
<path d="M1298,1032V982H1473V984H1300V1032Z" fill="#7DB98A"/>
<path d="M1473,982V1032H1298V1030H1471V982Z" fill="#000"/>
<path d="M1486,1032V982H1660V984H1488V1032Z" fill="#7DB98A"/>
<path d="M1660,982V1032H1486V1030H1658V982Z" fill="#000"/>
<path d="M1673,1032V982H1848V984H1675V1032Z" fill="#7DB98A"/>
<path d="M1848,982V1032H1673V1030H1846V982Z" fill="#000"/>
<text x="136" y="1004.5" font-size="22" fill="#000" font-weight="normal" textLength="41" lengthAdjust="spacingAndGlyphs" >Unit</text>
<text x="90" y="1025.5" font-size="22" fill="#000" font-weight="normal" textLength="117" lengthAdjust="spacingAndGlyphs" >Conversion</text>
<text x="293" y="1004.5" font-size="22" fill="#000" font-weight="normal" textLength="91" lengthAdjust="spacingAndGlyphs" >Message</text>
<text x="326" y="1025.5" font-size="22" fill="#000" font-weight="normal" textLength="36" lengthAdjust="spacingAndGlyphs" >Log</text>
<text x="1546" y="1020" font-size="22" fill="#000" font-weight="normal" textLength="48" lengthAdjust="spacingAndGlyphs" >Back</text>
<text x="1711" y="1020" font-size="22" fill="#1B5E24" font-weight="normal" textLength="83" lengthAdjust="spacingAndGlyphs" >Forward</text>
<rect x="0" y="1050" width="1920" height="30" fill="#202124" />
<rect x="260" y="1050" width="36" height="30" fill="#3B3B3D" />
<rect x="79" y="1078" width="28" height="2" fill="#76B9ED" />
<rect x="190" y="1078" width="28" height="2" fill="#76B9ED" />
<rect x="227" y="1078" width="28" height="2" fill="#76B9ED" />
<rect x="260" y="1078" width="36" height="2" fill="#76B9ED" />
<rect x="301" y="1078" width="28" height="2" fill="#76B9ED" />
<path d="M10,1058.5 L17,1057.5 V1064.6 H10Z M18,1057.3 L26,1056.3 V1064.6 H18Z M10,1065.4 H17 V1072.5 L10,1071.5Z M18,1065.4 H26 V1073.7 L18,1072.7Z" fill="#FFFFFF"/>
<circle cx="55.5" cy="1063.5" r="5.5" fill="none" stroke="#FFF" stroke-width="1.5"/><path d="M51.5,1067.5 L46.5,1072.5" stroke="#FFF" stroke-width="1.6"/>
<path d="M85,1058 H92 L94,1060 H101 V1072 H85Z" fill="#F8D775"/><rect x="85" y="1058" width="8" height="3" fill="#E8A33D"/><path d="M89,1072 V1066 H97 V1072 H95 V1068 H91 V1072Z" fill="#2F8DE4"/>
<path d="M122,1063 L130,1057 L138,1063 V1072 H122Z" fill="#1C7CD6"/><path d="M122,1063 L130,1069 L138,1063 V1072 H122Z" fill="#3FB6F2"/>
<circle cx="167" cy="1065" r="7.5" fill="#DB4437"/><path d="M167,1065 L160.5,1068.7 A7.5,7.5 0 0 0 170.8,1071.5Z" fill="#0F9D58"/><path d="M167,1065 L170.8,1071.5 A7.5,7.5 0 0 0 174.5,1063 L174.5,1062Z" fill="#F4C20D"/><circle cx="167" cy="1065" r="3.5" fill="#FFF"/><circle cx="167" cy="1065" r="2.6" fill="#4285F4"/>
<circle cx="204" cy="1065" r="7.5" fill="#DB4437"/><path d="M204,1065 L197.5,1068.7 A7.5,7.5 0 0 0 207.8,1071.5Z" fill="#0F9D58"/><path d="M204,1065 L207.8,1071.5 A7.5,7.5 0 0 0 211.5,1063 L211.5,1062Z" fill="#F4C20D"/><circle cx="204" cy="1065" r="3.5" fill="#FFF"/><circle cx="204" cy="1065" r="2.6" fill="#4285F4"/>
<circle cx="208" cy="1069" r="3.5" fill="#FFF" stroke="#222" stroke-width="1"/>
<rect x="236" y="1057" width="13" height="16" rx="1" fill="#21A366"/><rect x="236" y="1065" width="13" height="8" fill="#107C41"/><rect x="232" y="1060" width="10" height="10" fill="#185C37"/><text x="234" y="1068.5" font-size="9" font-weight="bold" fill="#FFF">X</text>
<g transform="translate(270,1057)"><rect x="0" y="0" width="16" height="16" fill="#4A6E98"/><path d="M0,0 H12 L8,8 L0,6Z" fill="#F07838"/><path d="M12,0 H16 V10 L8,8Z" fill="#D9CBB8"/><path d="M0,6 L8,8 L6,16 H0Z" fill="#F2D458"/><rect x="0.5" y="0.5" width="15" height="15" fill="none" stroke="#111" stroke-width="1"/><path d="M8,2.5 L13.5,8 L8,13.5 L2.5,8Z" fill="#FFF" stroke="#000" stroke-width="1.2" stroke-linejoin="round"/><circle cx="8" cy="8" r="3" fill="#BBB" stroke="#555" stroke-width="0.8"/><circle cx="8" cy="8" r="1.5" fill="#FFF"/></g>
<ellipse cx="314" cy="1066" rx="7" ry="6" fill="#8DC8F0"/><circle cx="311" cy="1064" r="1.3" fill="#E33"/><circle cx="314" cy="1062" r="1.3" fill="#3A3"/><circle cx="310" cy="1068" r="1.3" fill="#FC3"/><path d="M320,1057 L322,1057 L321,1073Z" fill="#E8892B"/>
<path d="M1384,1071 Q1381,1071 1381,1068 Q1381,1065 1385,1065 Q1386,1060 1392,1060 Q1398,1060 1399,1064 Q1404,1064 1404,1068 Q1404,1071 1401,1071Z" fill="#A9D6F5"/>
<text x="1413" y="1071" font-size="13" fill="#FFFFFF" textLength="92" lengthAdjust="spacingAndGlyphs">2°C  Νεφώσεις</text>
<rect x="1514" y="1057" width="16" height="16" rx="2" fill="#FFF"/><path d="M1517,1069 L1522,1060 L1527,1069Z" fill="#34A853"/><path d="M1519,1069 H1527 L1525,1066 H1521Z" fill="#4285F4"/><path d="M1522,1060 L1517,1069 L1519,1069 L1523,1062Z" fill="#FBBC04"/>
<rect x="1538" y="1057" width="15" height="15" fill="#E9B84A"/><rect x="1541" y="1060" width="10" height="10" fill="#FFF" stroke="#335" stroke-width="1"/>
<path d="M1562,1063 H1566 L1570,1059 V1071 L1566,1067 H1562Z" fill="#F3D35B"/><path d="M1572,1061 L1578,1060 M1572,1065 L1578,1065 M1572,1069 L1578,1070" stroke="#C33" stroke-width="1.5"/>
<path d="M1586,1058 L1596,1064 L1601,1065 L1602,1068 H1586Z" fill="none" stroke="#FFF" stroke-width="1"/><rect x="1585" y="1070" width="17" height="2" fill="#22E0E8"/>
<rect x="1612" y="1061" width="8" height="11" fill="none" stroke="#FFF" stroke-width="1"/><rect x="1614" y="1057" width="4" height="4" fill="none" stroke="#FFF" stroke-width="1"/>
<path d="M1642,1057 L1650,1060 V1065 Q1650,1071 1642,1074 Q1634,1071 1634,1065 V1060Z" fill="#FFF"/><path d="M1642,1057 V1074 Q1634,1071 1634,1065 V1060Z" fill="#111"/><circle cx="1647" cy="1070" r="3.5" fill="#1DAA4D"/>
<circle cx="1665" cy="1065" r="8" fill="#E0202A"/><path d="M1661,1069 V1061 L1665,1065 L1669,1061 V1069" fill="none" stroke="#FFF" stroke-width="2"/>
<path d="M1684,1059 L1688,1062 L1684,1065 L1680,1062Z M1692,1059 L1696,1062 L1692,1065 L1688,1062Z M1684,1065 L1688,1068 L1684,1071 L1680,1068Z M1692,1065 L1696,1068 L1692,1071 L1688,1068Z M1688,1069 L1692,1072 L1688,1075 L1684,1072Z" fill="#FFF"/>
<rect x="1706" y="1057" width="16" height="16" fill="#3A8FD8"/><rect x="1708" y="1060" width="12" height="9" fill="none" stroke="#DDF" stroke-width="1"/>
<rect x="1734" y="1061" width="12" height="9" fill="none" stroke="#FFF" stroke-width="1.2"/><path d="M1740,1070 V1073 M1736,1073 H1744 M1730,1058 H1735 V1063" fill="none" stroke="#FFF" stroke-width="1.2"/>
<path d="M1755,1063 H1758 L1762,1059 V1071 L1758,1067 H1755Z" fill="none" stroke="#FFF" stroke-width="1.2"/><path d="M1765,1062 Q1767,1065 1765,1068 M1768,1060 Q1771,1065 1768,1070" fill="none" stroke="#FFF" stroke-width="1.2"/>
<text x="1780" y="1070" font-size="12" fill="#FFFFFF" textLength="23" lengthAdjust="spacingAndGlyphs">ENG</text>
<text x="1816" y="1070" font-size="12" fill="#FFFFFF" textLength="45" lengthAdjust="spacingAndGlyphs">10:11 πμ</text>
<path d="M1879,1057.5 H1895.5 V1069.5 H1888 L1884,1073 V1069.5 H1879Z" fill="none" stroke="#FFF" stroke-width="1.3"/>
<rect x="1915" y="1050" width="1" height="30" fill="#555" />
</svg></body></html>
